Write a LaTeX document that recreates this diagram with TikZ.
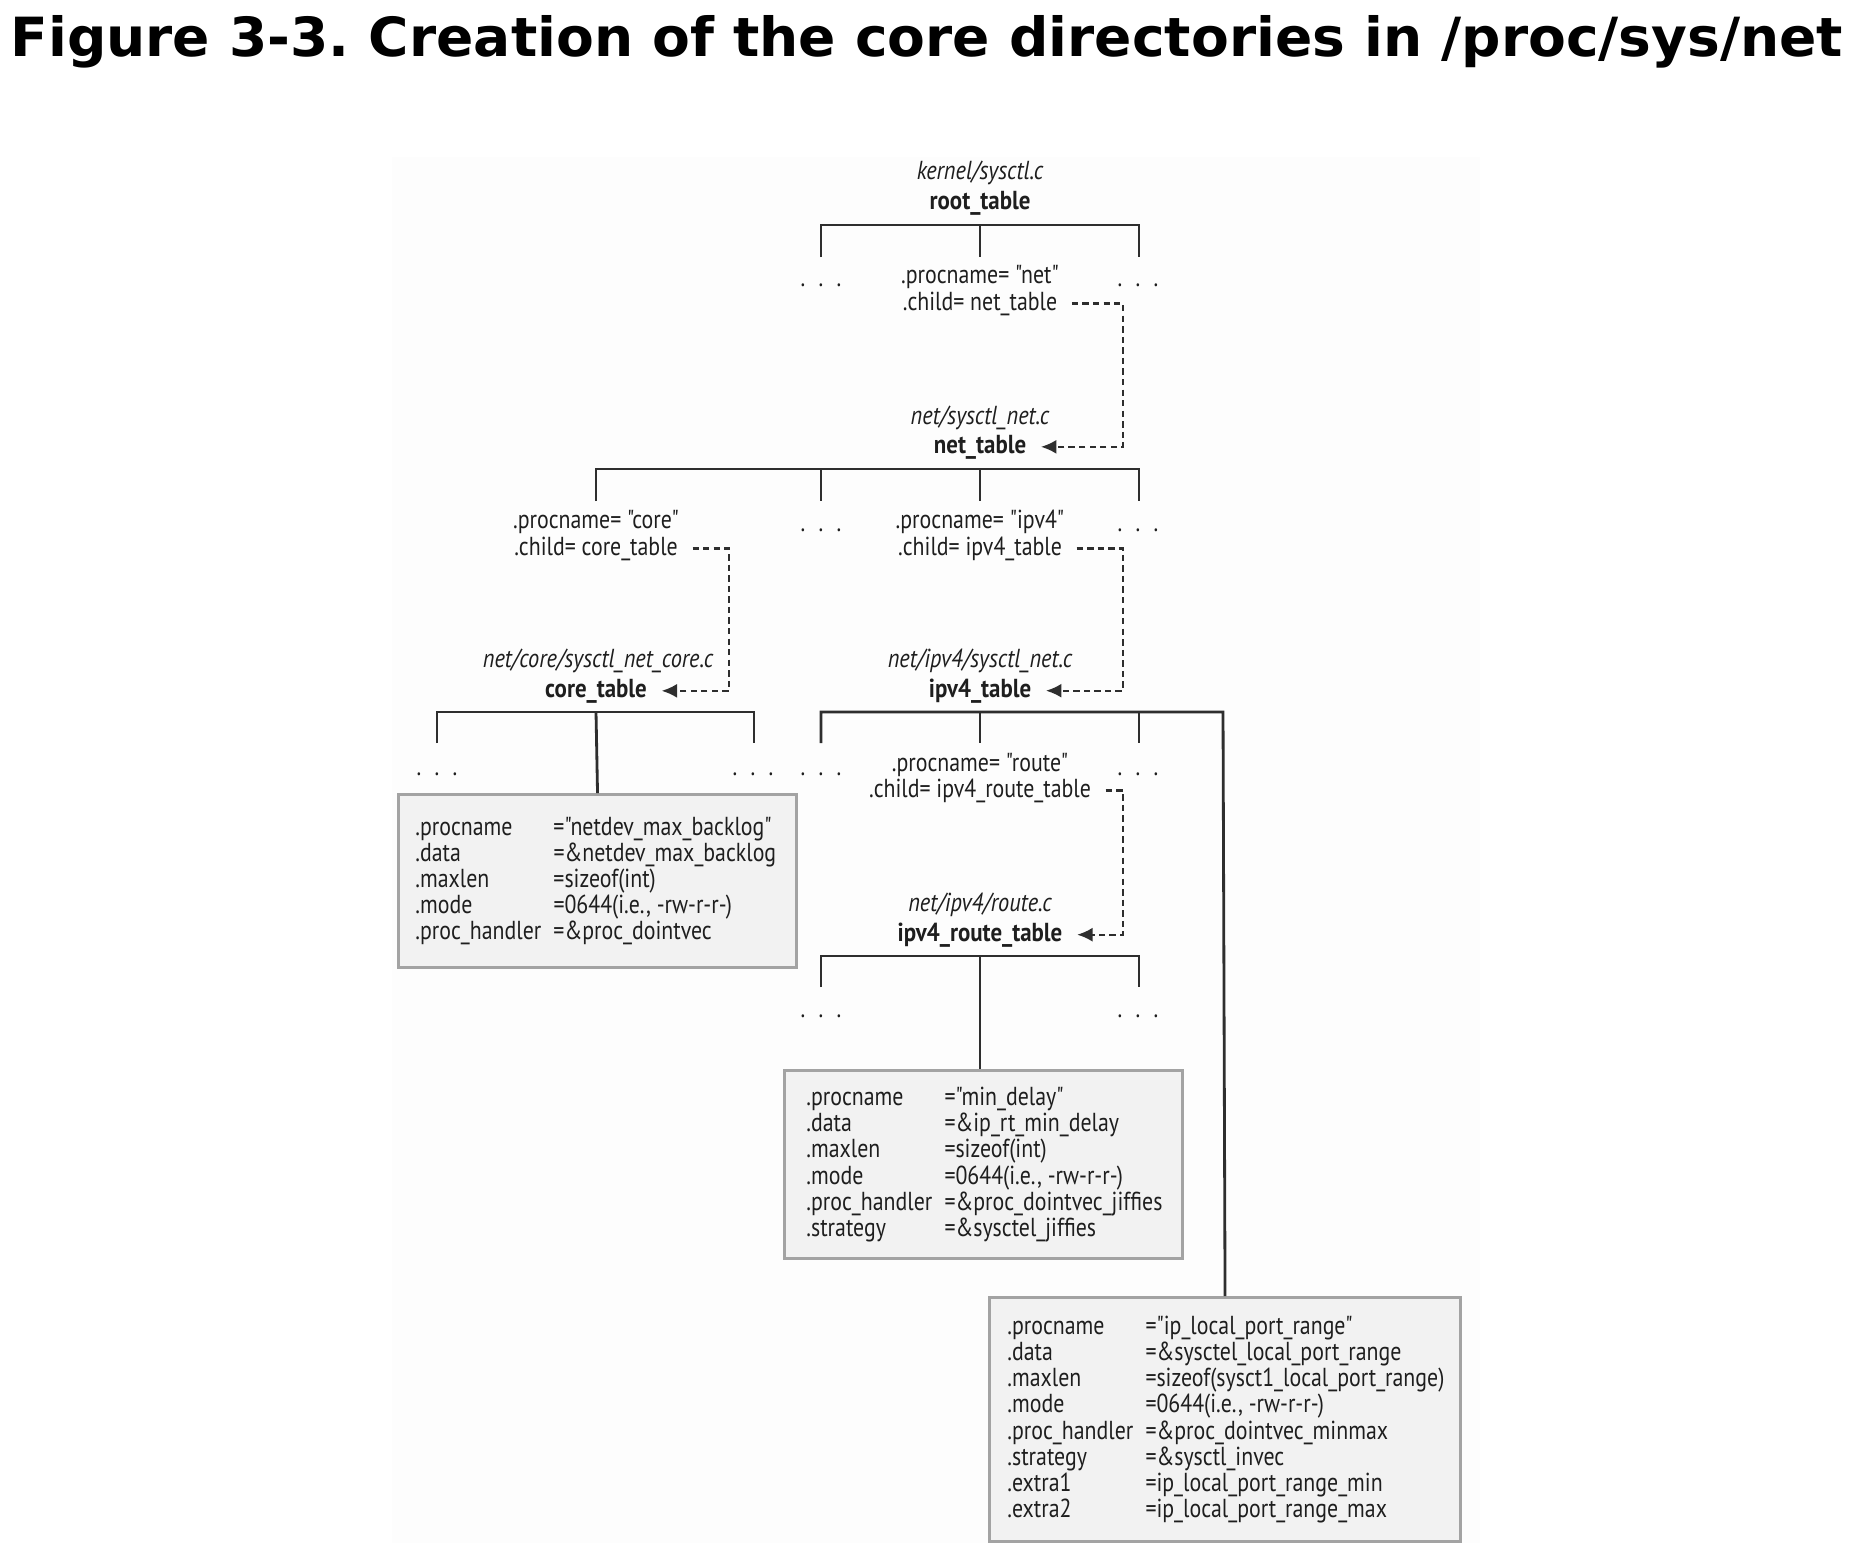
\documentclass[tikz,border=0pt]{standalone}
\usepackage{fontspec}
\newfontfamily\lbfont{PT Sans}[UprightFeatures={FakeStretch=0.84},BoldFeatures={FakeStretch=0.88},ItalicFeatures={FakeStretch=0.86}]
\newfontfamily\titlefont{DejaVu Sans}
\usetikzlibrary{arrows.meta}
\definecolor{boxfill}{HTML}{F2F2F2}
\definecolor{boxline}{HTML}{A3A3A3}
\definecolor{ink}{HTML}{1E1E1E}
\definecolor{linec}{HTML}{2E2E2E}
\definecolor{bgpaper}{HTML}{FDFDFD}
\newcommand\tdots{.\hspace{3.8pt}.\hspace{3.8pt}.}
\newcommand\fld[2]{\makebox[1.38cm][l]{#1}#2}
\frenchspacing
\begin{document}
\begin{tikzpicture}[x=0.01cm,y=-0.01cm,
  every node/.style={font=\lbfont\fontsize{7.4pt}{7.45pt}\selectfont, text=ink},
  lbl/.style={anchor=base, inner xsep=4pt, inner ysep=1pt},
  fname/.style={lbl, font=\lbfont\fontsize{7.4pt}{7.45pt}\selectfont\itshape},
  tname/.style={lbl, font=\lbfont\fontsize{7.4pt}{7.45pt}\selectfont\bfseries},
  dotsn/.style={anchor=base, inner sep=0pt},
  brk/.style={line width=0.8pt, draw=linec},
  ptr/.style={line width=0.65pt, draw=linec, dash pattern=on 1.8pt off 1.2pt, -{Latex[length=4.4pt,width=4pt]}},
  tbox/.style={draw=boxline, fill=boxfill, line width=0.8pt, inner sep=0pt, anchor=north west}
]
\useasboundingbox (0,0) rectangle (1874,1556);
\fill[bgpaper] (392,157) rectangle (1480,1543);

\node[anchor=base west, inner sep=0pt, text=black] (title) at (10,56)
  {\resizebox{18.31cm}{0.41cm}{\titlefont\bfseries Figure 3-3. Creation of the core directories in /proc/sys/net}};

% ---------- root_table ----------
\node[fname] (rootfile) at (980,179) {kernel/sysctl.c};
\node[tname] (roottable) at (980,209) {root\_table};
\draw[brk] (821,257) -- (821,225) -- (1139,225) -- (1139,257);
\draw[brk] (980,225) -- (980,257);
\node[dotsn] (d1a) at (821,286) {\tdots};
\node[dotsn] (d1b) at (1138,286) {\tdots};
\node[lbl] (netproc) at (980,283) {.procname= "net"};
\node[lbl] (netchild) at (980,310) {.child= net\_table};

% ---------- net_table ----------
\node[fname] (netfile) at (980,424) {net/sysctl\_net.c};
\node[tname] (nettable) at (980,453) {net\_table};
\coordinate (v1) at (1123,0);
\draw[ptr] (netchild.east) -- (netchild.east -| v1) |- (nettable.east);
\draw[brk] (596,501) -- (596,469) -- (1139,469) -- (1139,501);
\draw[brk] (821,469) -- (821,501);
\draw[brk] (980,469) -- (980,501);
\node[lbl] (coreproc) at (596,528) {.procname= "core"};
\node[lbl] (corechild) at (596,555) {.child= core\_table};
\node[dotsn] (d2a) at (821,531) {\tdots};
\node[lbl] (ipv4proc) at (980,528) {.procname= "ipv4"};
\node[lbl] (ipv4child) at (980,555) {.child= ipv4\_table};
\node[dotsn] (d2b) at (1138,531) {\tdots};

% ---------- core_table ----------
\node[fname] (corefile) at (598,667) {net/core/sysctl\_net\_core.c};
\node[tname] (coretable) at (596,697) {core\_table};
\coordinate (v2) at (729,0);
\draw[ptr] (corechild.east) -- (corechild.east -| v2) |- (coretable.east);
\draw[brk] (437,743) -- (437,712) -- (754,712) -- (754,743);
\node[dotsn] (d3a) at (437,775) {\tdots};
\node[dotsn] (d3b) at (753,775) {\tdots};
\node[tbox, minimum width=3.98cm, minimum height=1.73cm] (corebox) at (397,793)
  {\parbox{3.64cm}{%
   \fld{.procname}{="netdev\_max\_backlog"}\\
   \fld{.data}{=\&netdev\_max\_backlog}\\
   \fld{.maxlen}{=sizeof(int)}\\
   \fld{.mode}{=0644(i.e., -rw-r-r-)}\\
   \fld{.proc\_handler}{=\&proc\_dointvec}}};
\draw[brk] (596,712) -- (corebox.north);

% ---------- ipv4_table ----------
\node[fname] (ipv4file) at (980,667) {net/ipv4/sysctl\_net.c};
\node[tname] (ipv4table) at (980,697) {ipv4\_table};
\draw[ptr] (ipv4child.east) -- (ipv4child.east -| v1) |- (ipv4table.east);
\node[tbox, minimum width=4.71cm, minimum height=2.44cm] (bigbox) at (988,1296)
  {\parbox{4.35cm}{%
   \fld{.procname}{="ip\_local\_port\_range"}\\
   \fld{.data}{=\&sysctel\_local\_port\_range}\\
   \fld{.maxlen}{=sizeof(sysct1\_local\_port\_range)}\\
   \fld{.mode}{=0644(i.e., -rw-r-r-)}\\
   \fld{.proc\_handler}{=\&proc\_dointvec\_minmax}\\
   \fld{.strategy}{=\&sysctl\_invec}\\
   \fld{.extra1}{=ip\_local\_port\_range\_min}\\
   \fld{.extra2}{=ip\_local\_port\_range\_max}}};
\draw[brk] (821,743) -- (821,712) -- (1223,712) -- (bigbox.north);
\draw[brk] (980,712) -- (980,743);
\draw[brk] (1139,712) -- (1139,743);
\node[dotsn] (d4a) at (821,775) {\tdots};
\node[dotsn] (d4b) at (1138,775) {\tdots};
\node[lbl] (routeproc) at (980,771) {.procname= "route"};
\node[lbl] (routechild) at (980,797) {.child= ipv4\_route\_table};

% ---------- ipv4_route_table ----------
\node[fname] (routefile) at (980,911) {net/ipv4/route.c};
\node[tname] (routetable) at (980,941) {ipv4\_route\_table};
\draw[ptr] (routechild.east) -- (routechild.east -| v1) |- (routetable.east);
\draw[brk] (821,987) -- (821,956) -- (1139,956) -- (1139,987);
\node[dotsn] (d5a) at (821,1017) {\tdots};
\node[dotsn] (d5b) at (1138,1017) {\tdots};
\node[tbox, minimum width=3.98cm, minimum height=1.88cm] (minbox) at (783,1069)
  {\parbox{3.54cm}{%
   \fld{.procname}{="min\_delay"}\\
   \fld{.data}{=\&ip\_rt\_min\_delay}\\
   \fld{.maxlen}{=sizeof(int)}\\
   \fld{.mode}{=0644(i.e., -rw-r-r-)}\\
   \fld{.proc\_handler}{=\&proc\_dointvec\_jiffies}\\
   \fld{.strategy}{=\&sysctel\_jiffies}}};
\draw[brk] (980,956) -- (980,1069);
\end{tikzpicture}
\end{document}
